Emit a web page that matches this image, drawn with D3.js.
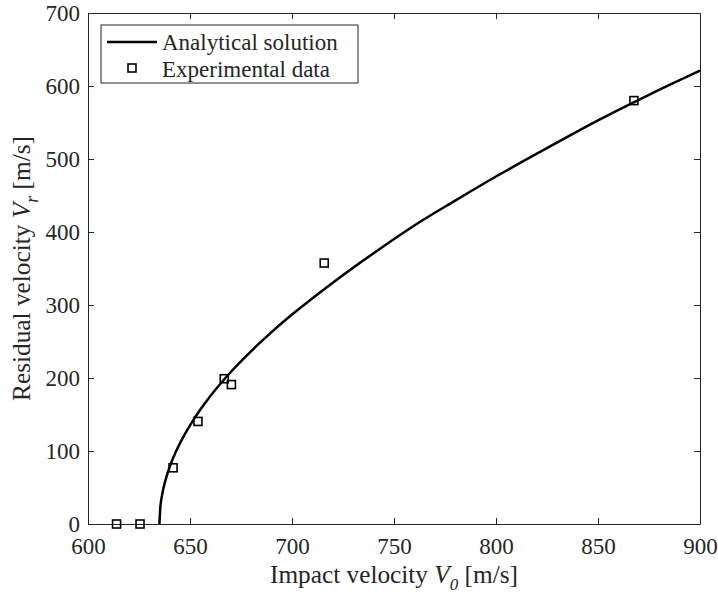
<!DOCTYPE html>
<html>
<head>
<meta charset="utf-8">
<script src="https://cdn.jsdelivr.net/npm/d3@7"></script>
<style>
  html, body { margin: 0; padding: 0; background: #fff; }
  svg { display: block; }
  text { font-family: "Liberation Serif", "Times New Roman", serif; fill: #262626; }
</style>
</head>
<body>
<svg id="chart" width="718" height="595"></svg>
<script>
// Analytical residual-velocity curve (impact velocity, residual velocity)
const curveV0 = [635, 635.5, 636, 637, 638, 640, 643, 646, 650, 655, 660, 670, 680, 690, 700,
                 720, 740, 760, 780, 800, 825, 850, 875, 900];
const curveVr = [0, 24.5, 34.7, 49.1, 60.2, 77.8, 98.5, 115.6, 135.2, 156.4, 175.3, 208.2, 236.9, 262.9, 286.9,
                 330.6, 371, 409, 443, 476, 515, 553, 588, 621];

// Measured impact / residual velocities
const expV0 = [614, 625.5, 641.7, 653.9, 666.8, 670.3, 715.8, 867.6];
const expVr = [0, 0, 77, 140.5, 199, 191, 357.5, 580];

// Axis ticks
const xTicks = [600, 650, 700, 750, 800, 850, 900];
const yTicks = [0, 100, 200, 300, 400, 500, 600, 700];

const plotLeft = 88, plotRight = 700, plotTop = 13, plotBottom = 524;
const axisColor = "#262626";
const fontSize = 23;
const labelSize = 25.3;

const svg = d3.select("#chart");
const x = d3.scaleLinear().domain([600, 900]).range([plotLeft, plotRight]);
const y = d3.scaleLinear().domain([0, 700]).range([plotBottom, plotTop]);

function styleAxis(g) {
  g.select(".domain").attr("stroke", axisColor).attr("stroke-width", 1);
  g.selectAll(".tick line").attr("stroke", axisColor).attr("stroke-width", 1);
  g.selectAll(".tick text")
    .attr("fill", axisColor)
    .style("font-family", '"Liberation Serif", "Times New Roman", serif')
    .style("font-size", fontSize + "px");
}

// Bottom axis with labels, inward ticks
svg.append("g")
  .attr("transform", `translate(0,${plotBottom})`)
  .call(d3.axisBottom(x).tickValues(xTicks).tickSizeInner(-6).tickSizeOuter(0).tickPadding(14))
  .call(styleAxis);

// Left axis with labels
svg.append("g")
  .attr("transform", `translate(${plotLeft},0)`)
  .call(d3.axisLeft(y).tickValues(yTicks).tickSizeInner(-6).tickSizeOuter(0).tickPadding(8))
  .call(styleAxis);

// Top and right box edges, ticks only
svg.append("g")
  .attr("transform", `translate(0,${plotTop})`)
  .call(d3.axisTop(x).tickValues(xTicks).tickSizeInner(-6).tickSizeOuter(0).tickFormat(""))
  .call(styleAxis);
svg.append("g")
  .attr("transform", `translate(${plotRight},0)`)
  .call(d3.axisRight(y).tickValues(yTicks).tickSizeInner(-6).tickSizeOuter(0).tickFormat(""))
  .call(styleAxis);

// Analytical solution curve
const curveData = curveV0.map((v, i) => [v, curveVr[i]]);
svg.append("path")
  .datum(curveData)
  .attr("fill", "none")
  .attr("stroke", "#000")
  .attr("stroke-width", 2.5)
  .attr("d", d3.line().x(d => x(d[0])).y(d => y(d[1])).curve(d3.curveMonotoneX));

// Experimental points as open squares
const sq = 8;
svg.append("g").selectAll("rect")
  .data(expV0.map((v, i) => [v, expVr[i]]))
  .join("rect")
  .attr("x", d => x(d[0]) - sq / 2)
  .attr("y", d => y(d[1]) - sq / 2)
  .attr("width", sq)
  .attr("height", sq)
  .attr("fill", "none")
  .attr("stroke", "#000")
  .attr("stroke-width", 1.6);

// Legend
const lg = svg.append("g");
lg.append("rect")
  .attr("x", 101).attr("y", 25).attr("width", 257).attr("height", 58)
  .attr("fill", "#fff").attr("stroke", axisColor).attr("stroke-width", 1);
lg.append("line")
  .attr("x1", 107).attr("x2", 157).attr("y1", 42).attr("y2", 42)
  .attr("stroke", "#000").attr("stroke-width", 2.5);
lg.append("rect")
  .attr("x", 132 - sq / 2).attr("y", 68 - sq / 2).attr("width", sq).attr("height", sq)
  .attr("fill", "none").attr("stroke", "#000").attr("stroke-width", 1.6);
lg.append("text").attr("x", 162).attr("y", 50).style("font-size", fontSize + "px").text("Analytical solution");
lg.append("text").attr("x", 162).attr("y", 76.5).style("font-size", fontSize + "px").text("Experimental data");

// X axis title
const xt = svg.append("text")
  .attr("x", (plotLeft + plotRight) / 2)
  .attr("y", 583)
  .attr("text-anchor", "middle")
  .style("font-size", labelSize + "px");
xt.append("tspan").text("Impact velocity ");
xt.append("tspan").style("font-style", "italic").text("V");
xt.append("tspan").style("font-style", "italic").style("font-size", "17px").attr("dy", 7).text("0");
xt.append("tspan").attr("dy", -7).text(" [m/s]");

// Y axis title
const yt = svg.append("text")
  .attr("transform", `translate(30,${(plotTop + plotBottom) / 2}) rotate(-90)`)
  .attr("text-anchor", "middle")
  .style("font-size", labelSize + "px");
yt.append("tspan").text("Residual velocity ");
yt.append("tspan").style("font-style", "italic").text("V");
yt.append("tspan").style("font-style", "italic").style("font-size", "18px").attr("dy", 8).text("r");
yt.append("tspan").attr("dy", -8).text(" [m/s]");
</script>
</body>
</html>
